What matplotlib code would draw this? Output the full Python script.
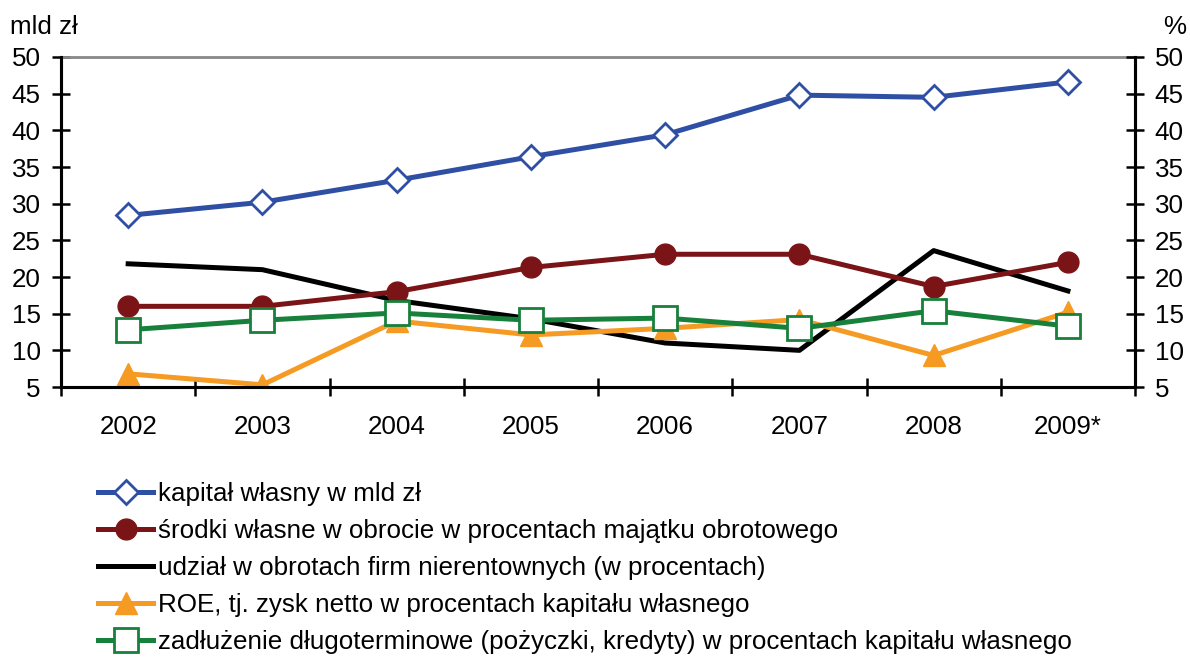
import numpy as np
import matplotlib
matplotlib.use('Agg')
import matplotlib.pyplot as plt

plt.rcParams['font.family'] = ['Liberation Sans', 'DejaVu Sans']
plt.rcParams['font.size'] = 18.7

years = ['2002', '2003', '2004', '2005', '2006', '2007', '2008', '2009*']
kapital = [28.4, 30.2, 33.2, 36.4, 39.4, 44.8, 44.5, 46.6]
srodki = [16.0, 16.0, 18.0, 21.3, 23.1, 23.1, 18.7, 22.0]
udzial = [21.8, 21.0, 16.8, 14.3, 11.0, 10.0, 23.6, 18.1]
roe = [6.8, 5.3, 14.0, 12.1, 13.0, 14.2, 9.3, 15.2]
zadluzenie = [12.8, 14.1, 15.1, 14.1, 14.4, 13.0, 15.4, 13.3]

labels = ['kapitał własny w mld zł',
          'środki własne w obrocie w procentach majątku obrotowego',
          'udział w obrotach firm nierentownych (w procentach)',
          'ROE, tj. zysk netto w procentach kapitału własnego',
          'zadłużenie długoterminowe (pożyczki, kredyty) w procentach kapitału własnego']

x = np.arange(len(years))

fig = plt.figure(figsize=(11.9, 6.62), dpi=100)
ax = fig.add_axes([0.0513, 0.4154, 0.9025, 0.4985])

ax.plot(x, kapital, color='#2E4FA3', lw=3.6, marker='D', ms=12, mfc='white',
        mec='#2E4FA3', mew=2, label=labels[0], zorder=5)
ax.plot(x, srodki, color='#7B1416', lw=3.6, marker='o', ms=15, mfc='#7B1416',
        mec='#7B1416', label=labels[1], zorder=4)
ax.plot(x, udzial, color='black', lw=3.6, label=labels[2], zorder=3)
ax.plot(x, roe, color='#F59B23', lw=3.6, marker='^', ms=16, mfc='#F59B23',
        mec='#F59B23', label=labels[3], zorder=3)
ax.plot(x, zadluzenie, color='#17803A', lw=3.6, marker='s', ms=17, mfc='white',
        mec='#17803A', mew=2, label=labels[4], zorder=5)

ax.set_xlim(-0.5, 7.5)
ax.set_ylim(5, 50)
ax.set_yticks(np.arange(5, 51, 5))
ax.set_xticks(np.arange(-0.5, 8, 1))
ax.set_xticklabels([])
ax.set_xticks(x, minor=True)
ax.set_xticklabels(years, minor=True)
ax.tick_params(axis='x', which='major', direction='inout', length=12.5, width=1.8)
ax.tick_params(axis='x', which='minor', length=0, pad=20)
ax.tick_params(axis='y', direction='inout', length=12.5, width=1.8, pad=8.5)

for s in ['left', 'bottom']:
    ax.spines[s].set_linewidth(2.2)
ax.spines['top'].set_color('#888888')
ax.spines['top'].set_linewidth(2)
ax.spines['right'].set_linewidth(2.2)

ax2 = ax.twinx()
ax2.set_ylim(5, 50)
ax2.set_yticks(np.arange(5, 51, 5))
ax2.tick_params(axis='y', direction='inout', length=12.5, width=1.8, pad=8)
for s in ['left', 'right', 'bottom']:
    ax2.spines[s].set_linewidth(2.2)
ax2.spines['top'].set_visible(False)

fig.text(10 / 1190, 1 - 27 / 662, 'mld zł', ha='left', va='center')
fig.text(1186 / 1190, 1 - 27 / 662, '%', ha='right', va='center')

fig.legend(*ax.get_legend_handles_labels(), loc='upper left',
           bbox_to_anchor=(0.074, 0.287), frameon=False, handlelength=2.1,
           handletextpad=0.2, labelspacing=0.5, borderaxespad=0)

fig.savefig('out.png', dpi=100)
